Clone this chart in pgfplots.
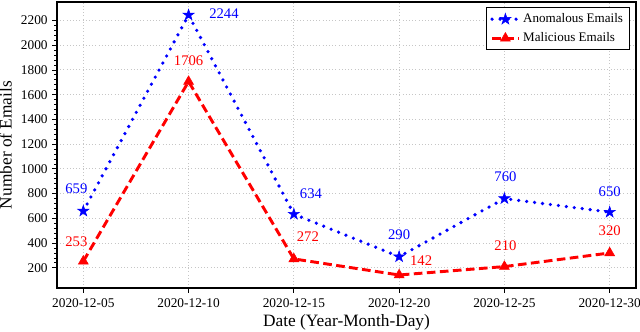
\documentclass[border=0pt]{standalone}
\usepackage{pgfplots}
\pgfplotsset{compat=1.18}
\usepackage{fontspec}
\setmainfont{Liberation Serif}
\usetikzlibrary{plotmarks}

% filled five-pointed star, like matplotlib's '*'
\pgfdeclareplotmark{fstar}{%
  \pgfpathmoveto{\pgfpointpolar{90}{\pgfplotmarksize}}%
  \pgfpathlineto{\pgfpointpolar{126}{0.382\pgfplotmarksize}}%
  \pgfpathlineto{\pgfpointpolar{162}{\pgfplotmarksize}}%
  \pgfpathlineto{\pgfpointpolar{198}{0.382\pgfplotmarksize}}%
  \pgfpathlineto{\pgfpointpolar{234}{\pgfplotmarksize}}%
  \pgfpathlineto{\pgfpointpolar{270}{0.382\pgfplotmarksize}}%
  \pgfpathlineto{\pgfpointpolar{306}{\pgfplotmarksize}}%
  \pgfpathlineto{\pgfpointpolar{342}{0.382\pgfplotmarksize}}%
  \pgfpathlineto{\pgfpointpolar{18}{\pgfplotmarksize}}%
  \pgfpathlineto{\pgfpointpolar{54}{0.382\pgfplotmarksize}}%
  \pgfpathclose
  \pgfusepathqfillstroke
}

% data read off the chart
\pgfplotstableread{
x anom mal
0 659 253
1 2244 1706
2 634 272
3 290 142
4 760 210
5 650 320
}\emaildata

\begin{document}
\begin{tikzpicture}
\path[use as bounding box] (-42.75pt,-33pt) rectangle (437.25pt,216pt);
\begin{axis}[
    scale only axis,
    width=434.25pt, height=214.5pt,
    xmin=-0.25, xmax=5.25,
    ymin=36.9, ymax=2349.1,
    xtick={0,1,2,3,4,5},
    xticklabels={2020-12-05,2020-12-10,2020-12-15,2020-12-20,2020-12-25,2020-12-30},
    ytick={200,400,...,2200},
    minor y tick num=4,
    tick align=outside,
    tick pos=left,
    major tick length=3.5pt,
    minor tick length=2pt,
    every tick/.style={black, line width=0.6pt},
    axis line style={black, line width=0.8pt},
    grid=major,
    major grid style={gray!45, dotted, line width=0.7pt},
    /pgf/number format/assume math mode=true,
    /pgf/number format/set thousands separator={},
    tick label style={font=\fontsize{10}{11}\selectfont},
    xticklabel style={yshift=-1pt},
    xlabel={Date (Year-Month-Day)},
    ylabel={Number of Emails},
    label style={font=\fontsize{13}{15}\selectfont},
    xlabel style={yshift=2pt},
    ylabel style={yshift=0pt},
    legend cell align=left,
    legend style={at={(rel axis cs:0.99,0.982)}, anchor=north east,
        font=\fontsize{9.8}{11}\selectfont, draw=black, line width=0.8pt,
        row sep=2pt, inner xsep=3pt, inner ysep=2.5pt},
    legend image code/.code={
        \draw[mark repeat=2,mark phase=2] plot coordinates {(0pt,0pt) (10pt,0pt) (20pt,0pt)};
    },
]
\addplot[blue, line width=2.7pt, line cap=round, dash pattern=on 0pt off 6pt,
    mark=fstar, mark size=4.4pt, mark options={solid, fill=blue, line width=0.4pt}]
    table[x=x, y=anom] {\emaildata};
\addlegendentry{Anomalous Emails}
\addplot[red, line width=2.2pt, dash pattern=on 6.5pt off 3.3pt,
    mark=triangle*, mark size=4.3pt, mark options={solid, fill=red, line width=0.4pt}]
    table[x=x, y=mal] {\emaildata};
\addlegendentry{Malicious Emails}

\begin{scope}[font=\fontsize{11}{12}\selectfont]
% anomalous labels
\node[blue] at (axis cs:0,659) [xshift=-5.2pt, yshift=16.5pt] {659};
\node[blue, anchor=west] at (axis cs:1,2244) [xshift=12pt, yshift=0.8pt] {2244};
\node[blue] at (axis cs:2,634) [xshift=12.8pt, yshift=15pt] {634};
\node[blue] at (axis cs:3,290) [xshift=0pt, yshift=16.3pt] {290};
\node[blue] at (axis cs:4,760) [xshift=0.8pt, yshift=16.5pt] {760};
\node[blue] at (axis cs:5,650) [xshift=0pt, yshift=15pt] {650};
% malicious labels
\node[red] at (axis cs:0,253) [xshift=-5.2pt, yshift=14.3pt] {253};
\node[red] at (axis cs:1,1706) [xshift=0pt, yshift=16pt] {1706};
\node[red] at (axis cs:2,272) [xshift=10.5pt, yshift=16.5pt] {272};
\node[red] at (axis cs:3,142) [xshift=16.5pt, yshift=11pt] {142};
\node[red] at (axis cs:4,210) [xshift=0.8pt, yshift=15.8pt] {210};
\node[red] at (axis cs:5,320) [xshift=0pt, yshift=16.5pt] {320};
\end{scope}
\end{axis}
\end{tikzpicture}
\end{document}
